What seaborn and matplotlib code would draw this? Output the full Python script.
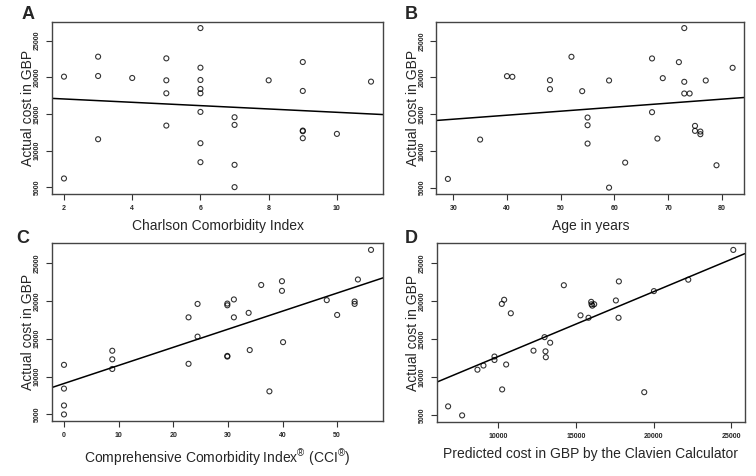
import numpy as np
import pandas as pd
import matplotlib
matplotlib.use("Agg")
import matplotlib.pyplot as plt
import seaborn as sns

# ---- data ----
actual_cost = [26727, 22818, 22591, 22091, 21318, 20182, 20091, 19909, 19636, 19591,
               19591, 19409, 18409, 18136, 17818, 17818, 15273, 14545, 13500, 13409,
               12727, 12636, 12273, 11682, 11545, 11000, 8409, 8045, 6182, 5000]
charlson = [6, 3, 5, 9, 6, 3, 2, 4, 6, 5,
            8, 11, 6, 9, 5, 6, 6, 7, 7, 5,
            9, 9, 10, 9, 3, 6, 6, 7, 2, 7]
age_years = [73, 52, 67, 72, 82, 40, 41, 69, 48, 59,
             77, 73, 48, 54, 73, 74, 67, 55, 55, 75,
             75, 76, 76, 68, 35, 55, 62, 79, 29, 59]
cci_r = [56.2, 53.8, 39.9, 36.1, 39.9, 31.1, 48.1, 53.2, 29.9, 24.45,
         53.2, 29.9, 33.8, 50.0, 22.8, 31.1, 24.45, 40.1, 34.0, 8.84,
         29.9, 29.9, 8.84, 22.8, 0, 8.84, 0, 37.6, 0, 0]
predicted = [25140, 22237, 17763, 14215, 20022, 10366, 17570, 15978, 10215, 16000,
             16172, 16050, 10796, 15290, 15806, 17742, 12970, 13333, 12258, 13032,
             9742, 13054, 9742, 10495, 9032, 8645, 10237, 19398, 6753, 7656]

panel_letters = ["A", "B", "C", "D"]
x_labels = ["Charlson Comorbidity Index", "Age in years",
            "Comprehensive Comorbidity Index$^{\u00ae}$ (CCI$^{\u00ae}$)",
            "Predicted cost in GBP by the Clavien Calculator"]
x_ticks = [[2, 4, 6, 8, 10], [30, 40, 50, 60, 70, 80],
           [0, 10, 20, 30, 40, 50], [10000, 15000, 20000, 25000]]
y_ticks = [5000, 10000, 15000, 20000, 25000]
y_label = "Actual cost in GBP"

df = pd.DataFrame({"actual": actual_cost, "charlson": charlson, "age": age_years,
                   "cci": cci_r, "predicted": predicted})
x_cols = ["charlson", "age", "cci", "predicted"]

sns.set_style("ticks")
plt.rcParams["font.family"] = ["Liberation Sans", "DejaVu Sans"]
plt.rcParams["mathtext.fontset"] = "custom"
plt.rcParams["mathtext.rm"] = "Liberation Sans"
plt.rcParams["mathtext.default"] = "regular"

W, H = 756, 476
fig = plt.figure(figsize=(W / 100, H / 100), dpi=100)

# axes boxes in pixels: left, right, top, bottom
boxes = [(51.7, 383.3, 21.7, 193.5), (436.5, 744.0, 21.7, 194.0),
         (51.7, 383.3, 243.3, 421.0), (436.7, 744.7, 243.3, 422.0)]
letter_pos = [(21.7, 19.3), (404.7, 19.3), (16.7, 242.7), (404.5, 242.7)]


def rlim(v):
    lo, hi = min(v), max(v)
    pad = 0.04 * (hi - lo)
    return lo - pad, hi + pad


for i in range(4):
    l, r, t, b = boxes[i]
    ax = fig.add_axes([l / W, 1 - b / H, (r - l) / W, (b - t) / H])
    xc = x_cols[i]
    ax.set_xlim(*rlim(df[xc]))
    ax.set_ylim(*rlim(df["actual"]))
    sns.regplot(data=df, x=xc, y="actual", ax=ax, ci=None, truncate=False,
                marker="o",
                scatter_kws=dict(s=13, facecolors="none", edgecolors="black",
                                 linewidths=0.8),
                line_kws=dict(color="black", lw=1.1))
    ax.set_xticks(x_ticks[i])
    ax.set_yticks(y_ticks)
    ax.set_xticklabels([str(v) for v in x_ticks[i]])
    ax.set_yticklabels([str(v) for v in y_ticks])
    ax.tick_params(axis="both", direction="out", length=4, width=0.8,
                   color="#333333", labelsize=5, pad=4)
    for lbl in ax.get_xticklabels() + ax.get_yticklabels():
        lbl.set_fontweight("bold")
    for lbl in ax.get_yticklabels():
        lbl.set_rotation(90)
        lbl.set_va("center")
        lbl.set_ha("right")
    for sp in ax.spines.values():
        sp.set_visible(True)
        sp.set_color("#444444")
        sp.set_linewidth(1.0)
    ax.set_xlabel(x_labels[i], fontsize=10, labelpad=5 if i != 2 else 6)
    ax.set_ylabel(y_label, fontsize=10, labelpad=-1)
    fx, fy = letter_pos[i]
    fig.text(fx / W, 1 - fy / H, panel_letters[i], fontsize=13, fontweight="bold",
             ha="left", va="baseline")

fig.savefig("out.png", dpi=100)
